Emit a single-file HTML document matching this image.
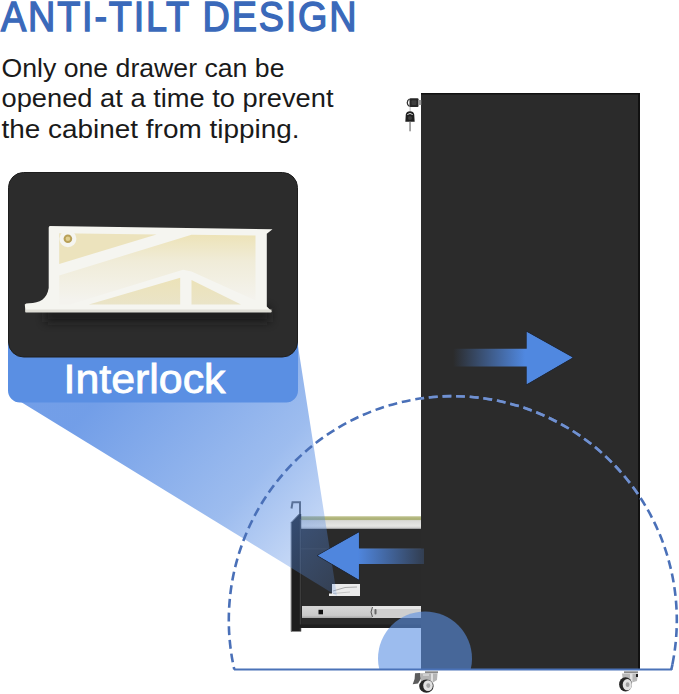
<!DOCTYPE html>
<html><head><meta charset="utf-8">
<style>
html,body{margin:0;padding:0;background:#fff;width:679px;height:694px;overflow:hidden}
svg{display:block}
text{font-family:"Liberation Sans",sans-serif}
</style></head>
<body>
<svg width="679" height="694" viewBox="0 0 679 694">
<defs>
  <linearGradient id="spot" x1="110" y1="385" x2="345" y2="590" gradientUnits="userSpaceOnUse">
    <stop offset="0" stop-color="#4f86e2" stop-opacity="0.8"/>
    <stop offset="0.55" stop-color="#5088e2" stop-opacity="0.56"/>
    <stop offset="1" stop-color="#5a8fe6" stop-opacity="0.2"/>
  </linearGradient>
  <linearGradient id="arrR" x1="453" y1="0" x2="525" y2="0" gradientUnits="userSpaceOnUse">
    <stop offset="0" stop-color="#5088e0" stop-opacity="0"/>
    <stop offset="1" stop-color="#5088e0" stop-opacity="1"/>
  </linearGradient>
  <linearGradient id="arrL" x1="358" y1="0" x2="425" y2="0" gradientUnits="userSpaceOnUse">
    <stop offset="0" stop-color="#4f86de" stop-opacity="1"/>
    <stop offset="0.5" stop-color="#4f86de" stop-opacity="0.6"/>
    <stop offset="1" stop-color="#4f86de" stop-opacity="0.2"/>
  </linearGradient>
  <clipPath id="above"><rect x="0" y="0" width="679" height="669.5"/></clipPath>
</defs>

<!-- title -->
<text transform="scale(0.9,1)" x="1.2" y="30.6" font-size="42" fill="#3a69ba" stroke="#3a69ba" stroke-width="1.4" textLength="395" lengthAdjust="spacing">ANTI-TILT DESIGN</text>
<text x="1.5" y="76.7" font-size="25.5" fill="#1a1a1a" textLength="283" lengthAdjust="spacingAndGlyphs">Only one drawer can be</text>
<text x="1.5" y="107.2" font-size="25.5" fill="#1a1a1a" textLength="332" lengthAdjust="spacingAndGlyphs">opened at a time to prevent</text>
<text x="1.5" y="137.7" font-size="25.5" fill="#1a1a1a" textLength="298" lengthAdjust="spacingAndGlyphs">the cabinet from tipping.</text>

<!-- cabinet -->
<rect x="421" y="93" width="219" height="576" fill="#2b2b2b"/>
<rect x="421" y="93" width="219" height="1.5" fill="#111"/>
<rect x="638" y="93" width="2" height="576" fill="#111"/>

<!-- drawer -->
<defs>
  <linearGradient id="railg" x1="0" y1="517" x2="0" y2="529" gradientUnits="userSpaceOnUse">
    <stop offset="0" stop-color="#b9bd86"/>
    <stop offset="0.2" stop-color="#a9ae72"/>
    <stop offset="0.3" stop-color="#d9d9d6"/>
    <stop offset="0.75" stop-color="#e6e6e4"/>
    <stop offset="1" stop-color="#bdbdbd"/>
  </linearGradient>
  <linearGradient id="slideg" x1="0" y1="605" x2="0" y2="618" gradientUnits="userSpaceOnUse">
    <stop offset="0" stop-color="#b0b0b0"/>
    <stop offset="0.12" stop-color="#d6d6d6"/>
    <stop offset="0.8" stop-color="#c9c9c9"/>
    <stop offset="1" stop-color="#a8a8a8"/>
  </linearGradient>
</defs>
<g>
  <rect x="299" y="528" width="122" height="100" fill="#2a2a2a"/>
  <rect x="299.5" y="516.3" width="121.5" height="12.5" fill="url(#railg)"/>
  <rect x="300" y="548.5" width="121" height="0.8" fill="#3a3a3a"/>
  <path d="M290.8 522.5 L299 514 L301.2 514 L301.2 631.5 L290.8 631.5 Z" fill="#1e1e1e"/>
  <path d="M291.5 631.5 L291.5 522.5 L299 514.5" stroke="#6a6a6a" stroke-width="0.9" fill="none"/>
  <rect x="299.8" y="519" width="1.2" height="112" fill="#3c3c3c"/>
  <path d="M291.5 508.5 L292.5 502.3 L300 502.3 L300 514" stroke="#5e5e5e" stroke-width="2" fill="none"/>
  <rect x="302" y="606" width="119" height="12" fill="url(#slideg)"/>
  <rect x="372" y="606" width="49" height="12" fill="#cfcfcf"/>
  <rect x="372" y="606" width="49" height="3" fill="#e6e6e6"/>
  <path d="M372.5 607 Q369.5 612 372.5 617" stroke="#555" stroke-width="1" fill="none"/>
  <rect x="374.5" y="609" width="2" height="5.5" rx="1" fill="#666"/>
  <rect x="318.5" y="609.8" width="4.5" height="4.5" fill="#111"/>
  <rect x="299" y="624.5" width="122" height="3.5" fill="#1f1f1f"/>
  <path d="M332 584 L360 584 L360 596 L329 596 L329 593.5 L332 593.5 Z" fill="#ebebeb"/>
  <path d="M333 591 Q345 586 357 587" stroke="#9a9a9a" stroke-width="0.8" fill="none"/>
  <path d="M333 593.5 L350 592" stroke="#aaa" stroke-width="0.6" fill="none"/>
</g>

<!-- spotlight -->
<polygon points="21,402 298,346 337,596" fill="url(#spot)"/>

<!-- interlock card -->
<rect x="8" y="300" width="290" height="102.5" rx="12" fill="#5a8fe3"/>
<rect x="8.5" y="172.5" width="289" height="184.5" rx="15" fill="#2c2c2c" stroke="#1e1e1e" stroke-width="1"/>
<text x="63.5" y="392.8" font-size="40" fill="#fff" stroke="#fff" stroke-width="0.8" textLength="162" lengthAdjust="spacingAndGlyphs">Interlock</text>

<defs><filter id="blur4" filterUnits="userSpaceOnUse" x="0" y="280" width="310" height="80"><feGaussianBlur stdDeviation="5"/></filter></defs>
<rect x="45" y="308" width="225" height="14" fill="#141414" opacity="0.75" filter="url(#blur4)"/>
<!-- plastic piece -->
<defs>
  <linearGradient id="r2g" x1="0" y1="235" x2="0" y2="300" gradientUnits="userSpaceOnUse">
    <stop offset="0" stop-color="#ede3b8"/>
    <stop offset="0.4" stop-color="#f0ecd8"/>
    <stop offset="1" stop-color="#f4f3ee"/>
  </linearGradient>
  <linearGradient id="r3g" x1="0" y1="275" x2="0" y2="305" gradientUnits="userSpaceOnUse">
    <stop offset="0" stop-color="#ece2b6"/>
    <stop offset="1" stop-color="#eae4c8"/>
  </linearGradient>
</defs>
<g>
  <path d="M49.5 226 L272.5 229.2 L266.8 233.8 L266.8 306.5 L271.5 311.2 L271 312.3 L25.5 312.3 L24.8 304.5 Q25.5 303.2 29 303.2 C40 303 47 299 48.7 288 L48.7 227.5 Z" fill="#f5f5f0"/>
  <polygon points="59.2,233.3 156.5,234.4 59.2,264" fill="#ece3bd"/>
  <circle cx="67.9" cy="238.7" r="8.5" fill="#f5f5f0"/>
  <circle cx="67.9" cy="238.7" r="4.3" fill="#b8a058"/>
  <circle cx="67.9" cy="238.7" r="2.3" fill="#e0cf90"/>
  <polygon points="59.2,275.4 191.5,234.8 255.5,235.5 255.5,300.5 191.5,271.6 183,269.8 70,304.6 59.2,304.6" fill="url(#r2g)"/>
  <polygon points="88.9,304.6 180.2,277.8 180.2,304.6" fill="url(#r3g)"/>
  <polygon points="191.5,279.9 191.5,304.6 241,304.6" fill="url(#r3g)"/>
  <rect x="25.5" y="309.5" width="246" height="2.8" fill="#dfded6"/>
</g>

<!-- arrows -->
<polygon points="453,348.7 526.8,348.7 526.8,332.1 572.5,357.6 526.8,384 526.8,366.4 453,366.4" fill="url(#arrR)"/>
<polygon points="424,548.5 358.9,548.5 358.9,532.6 318,555.6 358.9,579.5 358.9,564 424,564" fill="url(#arrL)"/>
<path d="M526.8 348.2 L526.8 331.3 L573.3 357.6 L526.8 384.8 L526.8 366.9" stroke="#1c273c" stroke-width="1" fill="none" opacity="0.8"/>
<path d="M358.9 548 L358.9 531.8 L317.2 555.6 L358.9 580.3 L358.9 564.5" stroke="#1c273c" stroke-width="1" fill="none" opacity="0.8"/>
<polygon points="526.8,348.7 526.8,332.1 572.5,357.6 526.8,384 526.8,366.4" fill="#5088e0"/>
<polygon points="358.9,548.5 358.9,532.6 318,555.6 358.9,579.5 358.9,564" fill="#4f86de"/>

<!-- dashed arc -->
<clipPath id="cabclip"><rect x="421" y="93" width="219" height="576"/></clipPath>
<path d="M234.3 669.5 A224 224 0 1 1 671.3 669.5" fill="none" stroke="#4a70b8" stroke-width="2.6" stroke-dasharray="8.9 4.8" stroke-dashoffset="6.3"/>
<path d="M234.3 669.5 A224 224 0 1 1 671.3 669.5" fill="none" stroke="#7191d0" stroke-width="2.6" stroke-dasharray="8.9 4.8" stroke-dashoffset="6.3" clip-path="url(#cabclip)"/>

<path d="M672.5 664.2 L671.3 669.5" stroke="#4a70b8" stroke-width="2.6" fill="none"/>

<!-- blue circle -->
<g clip-path="url(#above)">
  <circle cx="425" cy="658.5" r="47" fill="#5a8fe3" fill-opacity="0.6"/>
</g>

<!-- baseline -->
<rect x="234" y="668.5" width="438" height="2" fill="#4a72b8"/>

<!-- lock -->
<g>
  <path d="M409.5 99 A5 4.5 0 0 0 409.5 106.5" stroke="#333" stroke-width="1.3" fill="none"/>
  <rect x="409.5" y="98.3" width="9" height="8.6" rx="1" fill="#262626"/>
  <rect x="411.5" y="100.3" width="5" height="4.6" rx="1" fill="#3d3d3d"/>
  <rect x="418.3" y="100" width="3" height="5" fill="#9a9a9a"/>
  <rect x="409.6" y="107" width="1" height="4.5" fill="#bbb"/>
  <path d="M405.3 121.8 L405.8 114.5 Q406.5 111.2 410 111.2 Q413.5 111.2 414.2 114.5 L414.7 121.8 Z" fill="#1f1f1f"/>
  <path d="M407.3 114.6 Q410 112.3 412.7 114.6" stroke="#ddd" stroke-width="1" fill="none"/>
  <circle cx="410" cy="118" r="2" fill="#3a3a3a"/>
  <rect x="409.3" y="121.8" width="1.5" height="9.5" fill="#8a8a8a"/>
</g>

<!-- casters -->
<g>
  <rect x="425" y="671.3" width="13" height="1.8" fill="#8a8a8a"/>
  <polygon points="415,673.3 420,672.9 421,678.4 418,683.6 412.7,684.3 414.6,679" fill="#5c5c5c"/>
  <polygon points="420,673.3 437.5,673.3 437,680 432,683 421,682" fill="#b4b4b4"/>
  <rect x="431" y="673.5" width="2" height="9" fill="#e0e0e0"/>
  <rect x="423" y="674" width="6" height="2" fill="#d0d0d0"/>
  <ellipse cx="426.4" cy="686.1" rx="7.2" ry="6.6" fill="#262626"/>
  <ellipse cx="428" cy="685.6" rx="4.8" ry="5.4" fill="#e2e2e2"/>
  <ellipse cx="428.3" cy="685.6" rx="2" ry="2.4" fill="#a5a5a5"/>
</g>
<g>
  <rect x="624" y="671.3" width="14" height="1.8" fill="#8a8a8a"/>
  <polygon points="622,673.5 638,673.5 637,681 630,683 623,682" fill="#b8b8b8"/>
  <rect x="630" y="673.5" width="2.5" height="9" fill="#e2e2e2"/>
  <rect x="636" y="674" width="2" height="3" fill="#222"/>
  <ellipse cx="625.5" cy="684.4" rx="6.4" ry="7.2" fill="#262626"/>
  <ellipse cx="627.3" cy="684.7" rx="4.6" ry="5.6" fill="#e2e2e2"/>
  <ellipse cx="627.6" cy="684.7" rx="1.9" ry="2.4" fill="#a0a0a0"/>
</g>
</svg>
</body></html>
